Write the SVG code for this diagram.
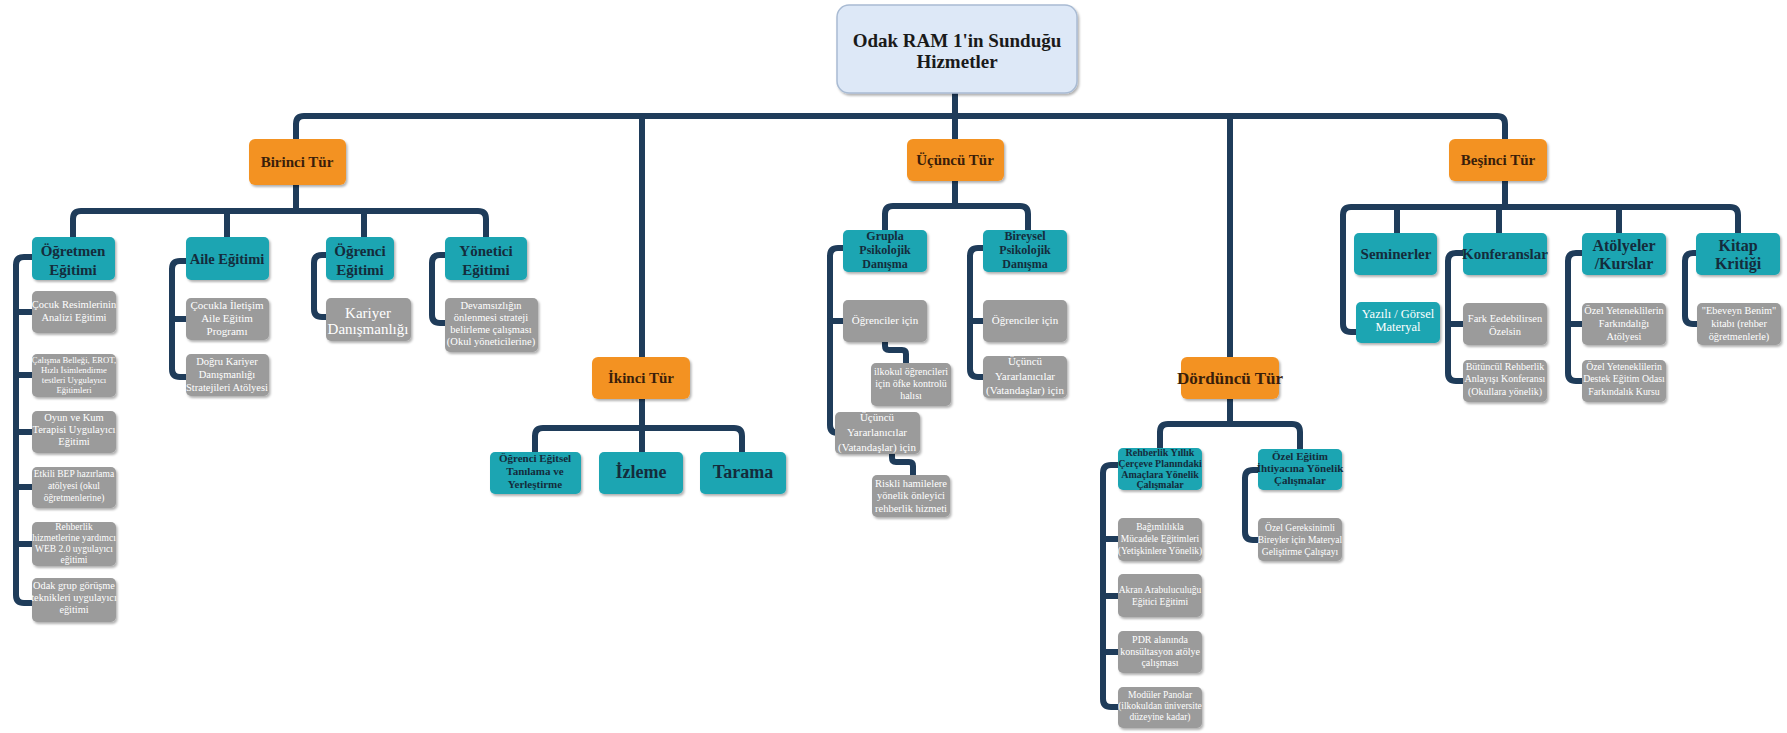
<svg xmlns="http://www.w3.org/2000/svg" width="1787" height="733" viewBox="0 0 1787 733">
<defs>
<filter id="sh" x="-10%" y="-10%" width="125%" height="130%">
<feDropShadow dx="1.5" dy="2" stdDeviation="1.2" flood-color="#000" flood-opacity="0.3"/>
</filter>
<style>
rect{filter:url(#sh)}
.r{fill:#dde8f7;stroke:#a9bbd3;stroke-width:1.5}
.o{fill:#f39221}
.t{fill:#1ea5b2}
.g{fill:#9b9b9b}
text{font-family:"Liberation Serif","Times New Roman",serif;text-anchor:middle}
.rt{font-size:19px;font-weight:bold;fill:#1a1a1a}
.ot{font-weight:bold;fill:#3a1e0a}
.tt{font-weight:bold;fill:#142c3c}
.gt{fill:#ffffff}
.c{fill:none;stroke:#1f3c5a;stroke-width:6;stroke-linecap:round;stroke-linejoin:round}
</style>
</defs>
<rect width="1787" height="733" fill="#ffffff" style="filter:none"/>

<g id="connectors" class="c">
<path d="M296,139 L296,124 Q296,116 304,116 L1497,116 Q1505,116 1505,124 L1505,139"/>
<path d="M955,93 L955,139"/>
<path d="M642,116 L642,357"/>
<path d="M1230,116 L1230,357"/>
<path d="M296,185 L296,211"/>
<path d="M73,237 L73,219 Q73,211 81,211 L478,211 Q486,211 486,219 L486,237"/>
<path d="M227,211 L227,237"/>
<path d="M364,211 L364,237"/>
<path d="M32,257 L24,257 Q16,257 16,265 L16,595 Q16,603 24,603 L32,603"/>
<path d="M16,312 L32,312 M16,375 L32,375 M16,432 L32,432 M16,487 L32,487 M16,544 L32,544"/>
<path d="M186,261 L180,261 Q172,261 172,269 L172,369 Q172,377 180,377 L186,377"/>
<path d="M172,319 L186,319"/>
<path d="M326,255 L322,255 Q314,255 314,263 L314,309 Q314,317 322,317 L326,317"/>
<path d="M445,255 L440,255 Q432,255 432,263 L432,315 Q432,323 440,323 L445,323"/>
<path d="M642,399 L642,452"/>
<path d="M535,452 L535,436 Q535,428 543,428 L734,428 Q742,428 742,436 L742,452"/>
<path d="M955,181 L955,206"/>
<path d="M885,230 L885,214 Q885,206 893,206 L1020,206 Q1028,206 1028,214 L1028,230"/>
<path d="M843,248 L838,248 Q830,248 830,256 L830,425 Q830,433 838,433 L843,433"/>
<path d="M830,321 L843,321"/>
<path d="M885,342 L885,346 Q885,350 889,350 L902,350 Q906,350 906,354 L906,363"/>
<path d="M892,454 L892,458 Q892,462 896,462 L909,462 Q913,462 913,466 L913,475"/>
<path d="M983,248 L978,248 Q970,248 970,256 L970,369 Q970,377 978,377 L983,377"/>
<path d="M970,321 L983,321"/>
<path d="M1230,399 L1230,424"/>
<path d="M1160,448 L1160,432 Q1160,424 1168,424 L1292,424 Q1300,424 1300,432 L1300,449"/>
<path d="M1118,465 L1111,465 Q1103,465 1103,473 L1103,699 Q1103,707 1111,707 L1118,707"/>
<path d="M1103,539 L1118,539 M1103,596 L1118,596 M1103,652 L1118,652"/>
<path d="M1258,470 L1253,470 Q1245,470 1245,478 L1245,532 Q1245,540 1253,540 L1258,540"/>
<path d="M1505,181 L1505,207"/>
<path d="M1356,332 L1351,332 Q1343,332 1343,324 L1343,215 Q1343,207 1351,207 L1730,207 Q1738,207 1738,215 L1738,233"/>
<path d="M1397,207 L1397,233 M1499,207 L1499,233 M1619,207 L1619,233"/>
<path d="M1463,253 L1456,253 Q1448,253 1448,261 L1448,373 Q1448,381 1456,381 L1463,381"/>
<path d="M1448,324 L1463,324"/>
<path d="M1582,253 L1576,253 Q1568,253 1568,261 L1568,373 Q1568,381 1576,381 L1582,381"/>
<path d="M1568,324 L1582,324"/>
<path d="M1696,253 L1693,253 Q1685,253 1685,261 L1685,316 Q1685,324 1693,324 L1697,324"/>
</g>

<g id="root"><rect class="r" x="837" y="5" width="240" height="88" rx="12"/>
<text class="rt"><tspan x="957" y="47">Odak RAM 1'in Sunduğu</tspan><tspan x="957" y="68">Hizmetler</tspan></text></g>

<g id="birinci"><rect class="o" x="249" y="139" width="97" height="46" rx="6"/><text class="ot" font-size="15" x="297" y="167">Birinci Tür</text></g>
<g id="ikinci"><rect class="o" x="592" y="357" width="98" height="42" rx="6"/><text class="ot" font-size="15" x="641" y="383">İkinci Tür</text></g>
<g id="ucuncu"><rect class="o" x="907" y="139" width="97" height="42" rx="6"/><text class="ot" font-size="15" x="955" y="165">Üçüncü Tür</text></g>
<g id="dorduncu"><rect class="o" x="1181" y="357" width="98" height="42" rx="6"/><text class="ot" font-size="17" x="1230" y="384">Dördüncü Tür</text></g>
<g id="besinci"><rect class="o" x="1449" y="139" width="98" height="42" rx="6"/><text class="ot" font-size="15" x="1498" y="165">Beşinci Tür</text></g>

<g id="ogretmen"><rect class="t" x="32" y="237" width="83" height="43" rx="5"/><text class="tt" font-size="15"><tspan x="73" y="256">Öğretmen</tspan><tspan x="73" y="275">Eğitimi</tspan></text></g>
<g id="aile"><rect class="t" x="186" y="237" width="83" height="43" rx="5"/><text class="tt" font-size="14.5" x="227" y="264">Aile Eğitimi</text></g>
<g id="ogrenci"><rect class="t" x="326" y="237" width="68" height="43" rx="5"/><text class="tt" font-size="15"><tspan x="360" y="256">Öğrenci</tspan><tspan x="360" y="275">Eğitimi</tspan></text></g>
<g id="yonetici"><rect class="t" x="445" y="237" width="82" height="43" rx="5"/><text class="tt" font-size="15"><tspan x="486" y="256">Yönetici</tspan><tspan x="486" y="275">Eğitimi</tspan></text></g>

<g id="og1"><rect class="g" x="32" y="291" width="84" height="42" rx="5"/><text class="gt" font-size="10.5"><tspan x="74" y="308">Çocuk Resimlerinin</tspan><tspan x="74" y="321">Analizi Eğitimi</tspan></text></g>
<g id="og2"><rect class="g" x="32" y="354" width="84" height="43" rx="5"/><text class="gt" font-size="8.7"><tspan x="74" y="363">Çalışma Belleği, EROT,</tspan><tspan x="74" y="373">Hızlı İsimlendirme</tspan><tspan x="74" y="383">testleri Uygulayıcı</tspan><tspan x="74" y="393">Eğitimleri</tspan></text></g>
<g id="og3"><rect class="g" x="32" y="411" width="84" height="42" rx="5"/><text class="gt" font-size="10.5"><tspan x="74" y="421">Oyun ve Kum</tspan><tspan x="74" y="433">Terapisi Uygulayıcı</tspan><tspan x="74" y="445">Eğitimi</tspan></text></g>
<g id="og4"><rect class="g" x="32" y="467" width="84" height="41" rx="5"/><text class="gt" font-size="9.5"><tspan x="74" y="477">Etkili BEP hazırlama</tspan><tspan x="74" y="489">atölyesi (okul</tspan><tspan x="74" y="501">öğretmenlerine)</tspan></text></g>
<g id="og5"><rect class="g" x="32" y="522" width="84" height="44" rx="5"/><text class="gt" font-size="9.5"><tspan x="74" y="530">Rehberlik</tspan><tspan x="74" y="541">hizmetlerine yardımcı</tspan><tspan x="74" y="552">WEB 2.0 uygulayıcı</tspan><tspan x="74" y="563">eğitimi</tspan></text></g>
<g id="og6"><rect class="g" x="32" y="578" width="84" height="44" rx="5"/><text class="gt" font-size="10.3"><tspan x="74" y="589">Odak grup görüşme</tspan><tspan x="74" y="601">teknikleri uygulayıcı</tspan><tspan x="74" y="613">eğitimi</tspan></text></g>

<g id="ai1"><rect class="g" x="186" y="298" width="83" height="42" rx="5"/><text class="gt" font-size="11"><tspan x="227" y="309">Çocukla İletişim</tspan><tspan x="227" y="322">Aile Eğitim</tspan><tspan x="227" y="335">Programı</tspan></text></g>
<g id="ai2"><rect class="g" x="186" y="354" width="83" height="42" rx="5"/><text class="gt" font-size="10.5"><tspan x="227" y="365">Doğru Kariyer</tspan><tspan x="227" y="378">Danışmanlığı</tspan><tspan x="227" y="391">Stratejileri Atölyesi</tspan></text></g>
<g id="or1"><rect class="g" x="326" y="298" width="85" height="43" rx="5"/><text class="gt" font-size="15"><tspan x="368" y="318">Kariyer</tspan><tspan x="368" y="334">Danışmanlığı</tspan></text></g>
<g id="yo1"><rect class="g" x="445" y="298" width="93" height="54" rx="5"/><text class="gt" font-size="10.5"><tspan x="491" y="309">Devamsızlığın</tspan><tspan x="491" y="321">önlenmesi strateji</tspan><tspan x="491" y="333">belirleme çalışması</tspan><tspan x="491" y="345">(Okul yöneticilerine)</tspan></text></g>

<g id="tanilama"><rect class="t" x="490" y="452" width="91" height="42" rx="5"/><text class="tt" font-size="11"><tspan x="535" y="462">Öğrenci Eğitsel</tspan><tspan x="535" y="475">Tanılama ve</tspan><tspan x="535" y="488">Yerleştirme</tspan></text></g>
<g id="izleme"><rect class="t" x="599" y="452" width="84" height="42" rx="5"/><text class="tt" font-size="18" x="641" y="478">İzleme</text></g>
<g id="tarama"><rect class="t" x="700" y="452" width="86" height="42" rx="5"/><text class="tt" font-size="18" x="743" y="478">Tarama</text></g>

<g id="grupla"><rect class="t" x="843" y="230" width="84" height="42" rx="5"/><text class="tt" font-size="12"><tspan x="885" y="240">Grupla</tspan><tspan x="885" y="254">Psikolojik</tspan><tspan x="885" y="268">Danışma</tspan></text></g>
<g id="bireysel"><rect class="t" x="983" y="230" width="84" height="42" rx="5"/><text class="tt" font-size="12"><tspan x="1025" y="240">Bireysel</tspan><tspan x="1025" y="254">Psikolojik</tspan><tspan x="1025" y="268">Danışma</tspan></text></g>
<g id="gr1"><rect class="g" x="843" y="300" width="84" height="42" rx="5"/><text class="gt" font-size="11" x="885" y="324">Öğrenciler için</text></g>
<g id="gr2"><rect class="g" x="871" y="363" width="80" height="43" rx="5"/><text class="gt" font-size="10"><tspan x="911" y="375">ilkokul öğrencileri</tspan><tspan x="911" y="387">için öfke kontrolü</tspan><tspan x="911" y="399">halısı</tspan></text></g>
<g id="gr3"><rect class="g" x="835" y="412" width="85" height="42" rx="5"/><text class="gt" font-size="11"><tspan x="877" y="421">Üçüncü</tspan><tspan x="877" y="436">Yararlanıcılar</tspan><tspan x="877" y="451">(Vatandaşlar) için</tspan></text></g>
<g id="gr4"><rect class="g" x="872" y="475" width="78" height="42" rx="5"/><text class="gt" font-size="10.5"><tspan x="911" y="487">Riskli hamilelere</tspan><tspan x="911" y="499">yönelik önleyici</tspan><tspan x="911" y="512">rehberlik hizmeti</tspan></text></g>
<g id="bi1"><rect class="g" x="983" y="300" width="84" height="42" rx="5"/><text class="gt" font-size="11" x="1025" y="324">Öğrenciler için</text></g>
<g id="bi2"><rect class="g" x="983" y="356" width="84" height="42" rx="5"/><text class="gt" font-size="11"><tspan x="1025" y="365">Üçüncü</tspan><tspan x="1025" y="380">Yararlanıcılar</tspan><tspan x="1025" y="394">(Vatandaşlar) için</tspan></text></g>

<g id="rehberlik"><rect class="t" x="1118" y="448" width="84" height="42" rx="5"/><text class="tt" font-size="10"><tspan x="1160" y="456">Rehberlik Yıllık</tspan><tspan x="1160" y="467">Çerçeve Planındaki</tspan><tspan x="1160" y="478">Amaçlara Yönelik</tspan><tspan x="1160" y="488">Çalışmalar</tspan></text></g>
<g id="ozelegitim"><rect class="t" x="1258" y="449" width="84" height="41" rx="5"/><text class="tt" font-size="11"><tspan x="1300" y="460">Özel Eğitim</tspan><tspan x="1300" y="472">İhtiyacına Yönelik</tspan><tspan x="1300" y="484">Çalışmalar</tspan></text></g>
<g id="re1"><rect class="g" x="1118" y="518" width="84" height="43" rx="5"/><text class="gt" font-size="9.5"><tspan x="1160" y="530">Bağımlılıkla</tspan><tspan x="1160" y="542">Mücadele Eğitimleri</tspan><tspan x="1160" y="554">(Yetişkinlere Yönelik)</tspan></text></g>
<g id="re2"><rect class="g" x="1118" y="574" width="84" height="43" rx="5"/><text class="gt" font-size="9.5"><tspan x="1160" y="593">Akran Arabuluculuğu</tspan><tspan x="1160" y="605">Eğitici Eğitimi</tspan></text></g>
<g id="re3"><rect class="g" x="1118" y="631" width="84" height="42" rx="5"/><text class="gt" font-size="10"><tspan x="1160" y="643">PDR alanında</tspan><tspan x="1160" y="655">konsültasyon atölye</tspan><tspan x="1160" y="666">çalışması</tspan></text></g>
<g id="re4"><rect class="g" x="1118" y="687" width="84" height="41" rx="5"/><text class="gt" font-size="9.5"><tspan x="1160" y="698">Modüler Panolar</tspan><tspan x="1160" y="709">(ilkokuldan üniversite</tspan><tspan x="1160" y="720">düzeyine kadar)</tspan></text></g>
<g id="oz1"><rect class="g" x="1258" y="518" width="84" height="43" rx="5"/><text class="gt" font-size="9.5"><tspan x="1300" y="531">Özel Gereksinimli</tspan><tspan x="1300" y="543">Bireyler için Materyal</tspan><tspan x="1300" y="555">Geliştirme Çalıştayı</tspan></text></g>

<g id="seminerler"><rect class="t" x="1354" y="233" width="83" height="42" rx="5"/><text class="tt" font-size="15" x="1396" y="259">Seminerler</text></g>
<g id="konferanslar"><rect class="t" x="1463" y="233" width="84" height="42" rx="5"/><text class="tt" font-size="15" x="1505" y="259">Konferanslar</text></g>
<g id="atolyeler"><rect class="t" x="1582" y="233" width="84" height="42" rx="5"/><text class="tt" font-size="16"><tspan x="1624" y="251">Atölyeler</tspan><tspan x="1624" y="269">/Kurslar</tspan></text></g>
<g id="kitap"><rect class="t" x="1696" y="233" width="84" height="42" rx="5"/><text class="tt" font-size="16"><tspan x="1738" y="251">Kitap</tspan><tspan x="1738" y="269">Kritiği</tspan></text></g>
<g id="yazili"><rect class="t" x="1356" y="302" width="84" height="41" rx="5"/><text class="gt" font-size="12.5"><tspan x="1398" y="318">Yazılı / Görsel</tspan><tspan x="1398" y="331">Materyal</tspan></text></g>
<g id="ko1"><rect class="g" x="1463" y="303" width="84" height="42" rx="5"/><text class="gt" font-size="10.5"><tspan x="1505" y="322">Fark Eedebilirsen</tspan><tspan x="1505" y="335">Özelsin</tspan></text></g>
<g id="ko2"><rect class="g" x="1463" y="360" width="84" height="42" rx="5"/><text class="gt" font-size="10"><tspan x="1505" y="370">Bütüncül Rehberlik</tspan><tspan x="1505" y="382">Anlayışı Konferansı</tspan><tspan x="1505" y="395">(Okullara yönelik)</tspan></text></g>
<g id="at1"><rect class="g" x="1582" y="303" width="84" height="42" rx="5"/><text class="gt" font-size="10.3"><tspan x="1624" y="314">Özel Yeteneklilerin</tspan><tspan x="1624" y="327">Farkındalığı</tspan><tspan x="1624" y="340">Atölyesi</tspan></text></g>
<g id="at2"><rect class="g" x="1582" y="360" width="84" height="42" rx="5"/><text class="gt" font-size="9.8"><tspan x="1624" y="370">Özel Yeteneklilerin</tspan><tspan x="1624" y="382">Destek Eğitim Odası</tspan><tspan x="1624" y="395">Farkındalık Kursu</tspan></text></g>
<g id="ki1"><rect class="g" x="1697" y="303" width="84" height="42" rx="5"/><text class="gt" font-size="10.3"><tspan x="1739" y="314">"Ebeveyn Benim"</tspan><tspan x="1739" y="327">kitabı (rehber</tspan><tspan x="1739" y="340">öğretmenlerle)</tspan></text></g>
</svg>
